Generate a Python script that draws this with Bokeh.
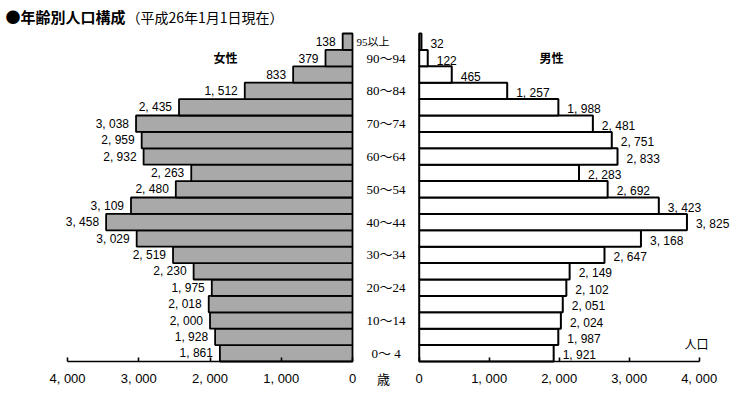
from bokeh.plotting import figure
from bokeh.layouts import row
from bokeh.models import Range1d, FixedTicker, ColumnDataSource
from bokeh.core.properties import value
from bokeh.embed import file_html
from bokeh.resources import INLINE

# ---------------- data ----------------
age_groups = ["0～4", "5～9", "10～14", "15～19", "20～24", "25～29", "30～34",
              "35～39", "40～44", "45～49", "50～54", "55～59", "60～64", "65～69",
              "70～74", "75～79", "80～84", "85～89", "90～94", "95以上"]
female = [1861, 1928, 2000, 2018, 1975, 2230, 2519, 3029, 3458, 3109,
          2480, 2263, 2932, 2959, 3038, 2435, 1512, 833, 379, 138]
male = [1921, 1987, 2024, 2051, 2102, 2149, 2647, 3168, 3825, 3423,
        2692, 2283, 2833, 2751, 2481, 1988, 1257, 465, 122, 32]
age_axis_labels = ["0～ 4", "10～14", "20～24", "30～34", "40～44", "50～54",
                   "60～64", "70～74", "80～84", "90～94"]
age_axis_index = [0, 2, 4, 6, 8, 10, 12, 14, 16, 18]
top_label = "95以上"
axis_ticks = [0, 1000, 2000, 3000, 4000]
title_main = "●年齢別人口構成"
title_sub = "（平成26年1月1日現在）"

# ---------------- layout helpers (page pixels -> data) ----------------
F_PX = 285 / 4000.0
M_PX = 280 / 4000.0
UNIT = 16.4
L_ZERO = 352.0
R_ZERO = 418.7
AXIS_Y = 361.0
SPLIT = 413
W, H = 744, 394


def lx(px):
    return (L_ZERO - px) / F_PX


def rx(px):
    return (px - R_ZERO) / M_PX


def yy(py):
    return (AXIS_Y - py) / UNIT - 0.5


def fmt(v):
    return f"{v:,}".replace(",", ", ")


idx = list(range(len(age_groups)))
src = ColumnDataSource(dict(
    idx=idx, female=female, male=male,
    flab=[fmt(v) for v in female], mlab=[fmt(v) for v in male]))

NUM_FONT = value("Liberation Sans")
SERIF_FONT = value("Liberation Serif, Noto Sans CJK JP")
CJK_FONT = value("Noto Sans CJK JP")


def style(p):
    p.xgrid.visible = False
    p.ygrid.visible = False
    p.outline_line_color = None
    p.background_fill_color = "white"
    p.border_fill_color = "white"
    ax = p.xaxis[0]
    ax.fixed_location = yy(AXIS_Y)
    ax.ticker = FixedTicker(ticks=axis_ticks)
    ax.major_label_overrides = {t: fmt(t) for t in axis_ticks}
    ax.bounds = (0, 4000)
    ax.major_tick_in = 4
    ax.major_tick_out = 0
    ax.minor_tick_line_color = None
    ax.axis_line_width = 1.6
    ax.axis_line_color = "black"
    ax.major_tick_line_width = 1.6
    ax.major_tick_line_color = "black"
    ax.major_label_text_font = "Liberation Sans"
    ax.major_label_text_font_size = "13px"
    ax.major_label_text_color = "black"
    ax.major_label_standoff = 9


y_range = Range1d(yy(H), yy(0))

# ---------------- left (female) ----------------
left = figure(width=SPLIT, height=H, x_range=Range1d(lx(0), lx(SPLIT)), y_range=y_range,
              output_backend="svg", toolbar_location=None, y_axis_location=None,
              min_border=0)
style(left)
left.hbar(y="idx", left=0, right="female", height=1, source=src,
          fill_color="#a9a9a9", line_color="black", line_width=1.8)
left.text(x="female", y="idx", text="flab", source=src, x_offset=-7,
          text_align="right", text_baseline="middle", text_font=NUM_FONT,
          text_font_size="12px", text_color="black")

age_src = ColumnDataSource(dict(y=age_axis_index, t=age_axis_labels,
                                x=[lx(385.5)] * len(age_axis_index)))
left.text(x="x", y="y", text="t", source=age_src, text_align="center",
          text_baseline="middle", text_font=SERIF_FONT, text_font_size="13px",
          text_color="black")
left.text(x=[lx(356)], y=[len(age_groups) - 1], text=[top_label], text_align="left",
          text_baseline="middle", text_font=SERIF_FONT, text_font_size="11px",
          text_color="black")
left.text(x=[lx(225)], y=[yy(57)], text=["女性"], text_align="center",
          text_baseline="middle", text_font=CJK_FONT, text_font_size="12px",
          text_font_style="bold", text_color="black")
left.text(x=[lx(5)], y=[yy(16)], text=[title_main], text_align="left",
          text_baseline="middle", text_font=CJK_FONT, text_font_size="15px",
          text_font_style="bold", text_color="black")
left.text(x=[lx(126)], y=[yy(16)], text=[title_sub], text_align="left",
          text_baseline="middle", text_font=CJK_FONT, text_font_size="14px",
          text_color="black")
left.text(x=[lx(383)], y=[yy(378)], text=["歳"], text_align="center",
          text_baseline="middle", text_font=CJK_FONT, text_font_size="13px",
          text_color="black")

# ---------------- right (male) ----------------
right = figure(width=W - SPLIT, height=H, x_range=Range1d(rx(SPLIT), rx(W)), y_range=y_range,
               output_backend="svg", toolbar_location=None, y_axis_location=None,
               min_border=0)
style(right)
right.hbar(y="idx", left=0, right="male", height=1, source=src,
           fill_color="white", line_color="black", line_width=2)
right.text(x="male", y="idx", text="mlab", source=src, x_offset=9, y_offset=2,
           text_align="left", text_baseline="middle", text_font=NUM_FONT,
           text_font_size="12px", text_color="black")
right.text(x=[rx(551)], y=[yy(57)], text=["男性"], text_align="center",
           text_baseline="middle", text_font=CJK_FONT, text_font_size="12px",
           text_font_style="bold", text_color="black")
right.text(x=[rx(708)], y=[yy(343)], text=["人口"], text_align="right",
           text_baseline="middle", text_font=CJK_FONT, text_font_size="12px",
           text_color="black")

layout = row(left, right)
open("out.html", "w").write(file_html(layout, INLINE))
